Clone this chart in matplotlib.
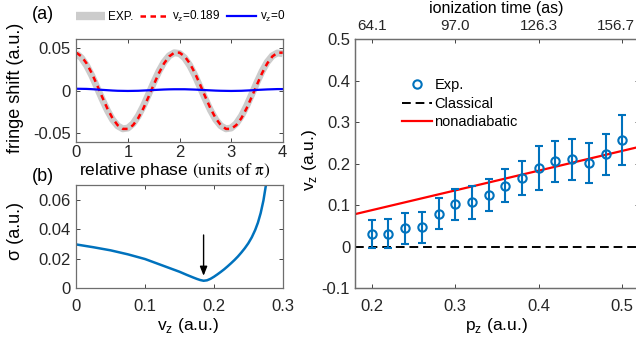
import numpy as np
import matplotlib
matplotlib.use('Agg')
import matplotlib.pyplot as plt
from matplotlib.lines import Line2D
from matplotlib.transforms import ScaledTranslation

plt.rcParams['font.family'] = ['Liberation Sans', 'DejaVu Sans']

# (a) fringe shift vs relative phase (units of pi)
phase = np.linspace(0, 4, 41)
shift_exp = [0.0439, 0.0387, 0.0297, 0.0179, 0.0042, -0.0098, -0.0229, -0.0338, -0.0413, -0.0448,
             -0.0439, -0.0387, -0.0297, -0.0179, -0.0042, 0.0098, 0.0229, 0.0338, 0.0413, 0.0448,
             0.0439, 0.0387, 0.0297, 0.0179, 0.0042, -0.0098, -0.0229, -0.0338, -0.0413, -0.0448,
             -0.0439, -0.0387, -0.0297, -0.0179, -0.0042, 0.0098, 0.0229, 0.0338, 0.0413, 0.0446,
             0.0436]
shift_v0189 = [0.0449, 0.0405, 0.0322, 0.0207, 0.0071, -0.0071, -0.0207, -0.0322, -0.0405, -0.0449,
               -0.0449, -0.0405, -0.0322, -0.0207, -0.0071, 0.0071, 0.0207, 0.0322, 0.0405, 0.0449,
               0.0449, 0.0405, 0.0322, 0.0207, 0.0071, -0.0071, -0.0207, -0.0322, -0.0405, -0.0449,
               -0.0449, -0.0405, -0.0322, -0.0207, -0.0071, 0.0071, 0.0207, 0.0322, 0.0405, 0.0449,
               0.0449]
shift_v0 = [0.0024, 0.0023, 0.0022, 0.0019, 0.0015, 0.0011, 0.0007, 0.0003, 0.0000, -0.0001,
            -0.0002, -0.0001, 0.0000, 0.0003, 0.0006, 0.0009, 0.0012, 0.0015, 0.0017, 0.0018,
            0.0018, 0.0018, 0.0016, 0.0014, 0.0011, 0.0008, 0.0005, 0.0002, 0.0000, -0.0001,
            -0.0002, -0.0001, 0.0000, 0.0003, 0.0006, 0.0010, 0.0013, 0.0016, 0.0018, 0.0020,
            0.0020]

# (b) sigma vs v_z
vz_scan = [0, 0.025, 0.05, 0.075, 0.1, 0.125, 0.15, 0.16, 0.17, 0.175, 0.18, 0.185, 0.19,
           0.195, 0.2, 0.205, 0.21, 0.215, 0.22, 0.225, 0.23, 0.235, 0.24, 0.245, 0.25,
           0.255, 0.26, 0.264, 0.268, 0.272, 0.276]
sigma = [0.0297, 0.0278, 0.0257, 0.0230, 0.0198, 0.0155, 0.0112, 0.0092, 0.0073, 0.0064,
         0.0056, 0.0051, 0.0054, 0.0064, 0.0078, 0.0094, 0.0111, 0.0129, 0.0149, 0.0170,
         0.0192, 0.0216, 0.0243, 0.0272, 0.0305, 0.0345, 0.0395, 0.0445, 0.0510, 0.0595,
         0.0710]

# (c) v_z vs p_z
pz = [0.20, 0.22, 0.24, 0.26, 0.28, 0.30, 0.32, 0.34, 0.36, 0.38, 0.40, 0.42, 0.44, 0.46, 0.48, 0.50]
vz = [0.030, 0.031, 0.044, 0.046, 0.079, 0.102, 0.107, 0.124, 0.147, 0.165, 0.189, 0.205,
      0.210, 0.202, 0.222, 0.257]
vz_err = [0.034, 0.035, 0.037, 0.038, 0.038, 0.037, 0.040, 0.039, 0.039, 0.042, 0.052, 0.050,
          0.050, 0.048, 0.050, 0.060]
pz_line = [0.18, 0.52]
vz_classical = [0.0, 0.0]
vz_nonadiabatic = [0.078, 0.240]
time_ticks = [0.2, 0.3, 0.4, 0.5]
time_labels = ['64.1', '97.0', '126.3', '156.7']

mblue = '#0072BD'
tick_col = '#262626'
spine_col = '#6e6e6e'


def matlab_box(ax, xpad, ypad, top=True, right=True):
    ax.tick_params(direction='in', top=top, right=right, length=3, width=0.6,
                   colors=tick_col, labelsize=12)
    ax.tick_params(axis='x', pad=xpad)
    ax.tick_params(axis='y', pad=ypad)
    for s in ax.spines.values():
        s.set_color(spine_col)
        s.set_linewidth(0.9)


fig = plt.figure(figsize=(6.36, 3.47), dpi=100)
ax_a = fig.add_axes([0.120, 0.5916, 0.3245, 0.296])
ax_b = fig.add_axes([0.120, 0.1692, 0.3245, 0.2977])
ax_c = fig.add_axes([0.5582, 0.170, 0.4465, 0.7176])

# panel (a)
ax_a.plot(phase, shift_exp, color='#cccccc', lw=5, solid_capstyle='butt')
ax_a.plot(phase, shift_v0189, color='#ff0000', lw=1.8, dashes=(2.2, 1.8))
ax_a.plot(phase, shift_v0, color='#0000ff', lw=1.6)
ax_a.set_xlim(0, 4)
ax_a.set_ylim(-0.06, 0.061)
ax_a.set_xticks([0, 1, 2, 3, 4])
ax_a.set_yticks([-0.05, 0, 0.05])
ax_a.set_yticklabels(['-0.05', '0', '0.05'])
matlab_box(ax_a, 2.5, 4)

handles = [Line2D([], [], color='#cccccc', lw=6, solid_capstyle='butt'),
           Line2D([], [], color='#ff0000', lw=1.8, dashes=(2.2, 1.8)),
           Line2D([], [], color='#0000ff', lw=1.6)]
fig.legend(handles, ['EXP.', 'v$_\\mathregular{z}$=0.189', 'v$_\\mathregular{z}$=0'],
           loc='upper left', bbox_to_anchor=(0.119, 0.975), ncol=3, frameon=False,
           fontsize=8.5, handlelength=2.45, handletextpad=0.3, columnspacing=0.55,
           borderpad=0, borderaxespad=0)

# panel (b)
ax_b.plot(vz_scan, sigma, color=mblue, lw=1.8)
i_min = int(np.argmin(sigma))
ax_b.annotate('', xy=(vz_scan[i_min], sigma[i_min] + 0.0015), xytext=(vz_scan[i_min], 0.038),
              arrowprops=dict(arrowstyle='-|>,head_width=0.22,head_length=0.55',
                              color='black', lw=1.0))
ax_b.set_xlim(0, 0.3)
ax_b.set_ylim(0, 0.07)
ax_b.set_xticks([0, 0.1, 0.2, 0.3])
ax_b.set_xticklabels(['0', '0.1', '0.2', '0.3'])
ax_b.set_yticks([0, 0.02, 0.04, 0.06])
ax_b.set_yticklabels(['0', '0.02', '0.04', '0.06'])
matlab_box(ax_b, 8, 4)

# panel (c)
ax_c.plot(pz_line, vz_classical, color='black', lw=1.4, dashes=(4.5, 2.5))
ax_c.plot(pz_line, vz_nonadiabatic, color='#ff0000', lw=1.6)
ax_c.errorbar(pz, vz, yerr=vz_err, fmt='o', color=mblue, mfc='none', mec=mblue,
              ms=6, mew=1.5, elinewidth=1.5, capsize=3, capthick=1.5)
ax_c.set_xlim(0.18, 0.52)
ax_c.set_ylim(-0.1, 0.5)
ax_c.set_xticks([0.2, 0.3, 0.4, 0.5])
ax_c.set_yticks([-0.1, 0, 0.1, 0.2, 0.3, 0.4, 0.5])
ax_c.set_yticklabels(['-0.1', '0', '0.1', '0.2', '0.3', '0.4', '0.5'])
matlab_box(ax_c, 8, 3.5, top=False)

tw = ax_c.twiny()
tw.set_xlim(ax_c.get_xlim())
tw.set_xticks(time_ticks)
tw.set_xticklabels(time_labels)
matlab_box(tw, 4, 3.5, right=False)
tw.tick_params(labelsize=11)
last = tw.get_xticklabels()[-1]
last.set_transform(last.get_transform() + ScaledTranslation(-6 / 100, 0, fig.dpi_scale_trans))

leg_handles = [Line2D([], [], ls='none', marker='o', ms=6, mfc='none', mec=mblue, mew=1.5),
               Line2D([], [], color='black', lw=1.4, dashes=(4.5, 2.5)),
               Line2D([], [], color='#ff0000', lw=1.6)]
ax_c.legend(leg_handles, ['Exp.', 'Classical', 'nonadiabatic'], loc='upper left',
            bbox_to_anchor=(0.6316, 0.774), bbox_transform=fig.transFigure,
            frameon=False, fontsize=10.5, handlelength=2.1, handletextpad=0.15,
            labelspacing=0.3, borderpad=0, borderaxespad=0)

# labels
fig.text(0.068, 0.957, '(a)', fontsize=13, ha='center', va='center')
fig.text(0.068, 0.49, '(b)', fontsize=13, ha='center', va='center')
fig.text(0.025, 0.746, 'fringe shift (a.u.)', fontsize=13, rotation=90, ha='center', va='center')
t = fig.text(0.274, 0.507, 'relative phase $\\mathrm{(units\\ of\\ \\pi)}$', fontsize=12.5,
             ha='center', va='center')
t.set_math_fontfamily('stix')
fig.text(0.025, 0.334, '\u03c3 (a.u.)', fontsize=13, rotation=90, ha='center', va='center')
fig.text(0.295, 0.062, 'v$_\\mathregular{z}$ (a.u.)', fontsize=12.5, ha='center', va='center')
fig.text(0.781, 0.062, 'p$_\\mathregular{z}$ (a.u.)', fontsize=12.5, ha='center', va='center')
fig.text(0.486, 0.539, 'v$_\\mathregular{z}$ (a.u.)', fontsize=12.5, rotation=90,
         ha='center', va='center')
fig.text(0.781, 0.975, 'ionization time (as)', fontsize=11.5, ha='center', va='center')

fig.savefig('out.png', dpi=100)
